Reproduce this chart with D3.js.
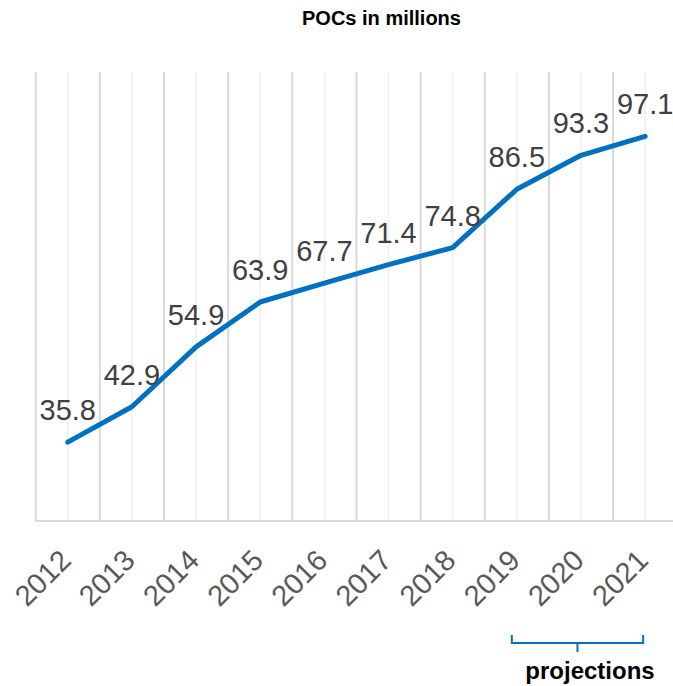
<!DOCTYPE html>
<html>
<head>
<meta charset="utf-8">
<script src="https://cdn.jsdelivr.net/npm/d3@7"></script>
<style>
  body { margin: 0; background: #fff; }
  svg { display: block; font-family: "Liberation Sans", Arial, sans-serif; }
</style>
</head>
<body>
<script>
// chart values
const years = ["2012", "2013", "2014", "2015", "2016", "2017", "2018", "2019", "2020", "2021"];
const pocs = [35.8, 42.9, 54.9, 63.9, 67.7, 71.4, 74.8, 86.5, 93.3, 97.1];
const projectedYears = ["2019", "2020", "2021"];
const yDomain = [20, 110];

const width = 673, height = 686;
const plot = {left: 35.7, right: 677.2, top: 72, bottom: 521};

const svg = d3.select("body").append("svg")
  .attr("width", width)
  .attr("height", height);

// scales
const x = d3.scaleBand().domain(years).range([plot.left, plot.right]).padding(0);
const y = d3.scaleLinear().domain(yDomain).range([plot.bottom, plot.top]);
const cx = d => x(d) + x.bandwidth() / 2;

// title
svg.append("text")
  .attr("x", 381.5)
  .attr("y", 25)
  .attr("text-anchor", "middle")
  .style("font-size", "20px")
  .style("font-weight", "bold")
  .style("fill", "#000")
  .text("POCs in millions");

// minor gridlines (at category centers)
svg.append("g").selectAll("line")
  .data(years)
  .enter().append("line")
  .attr("x1", d => cx(d)).attr("x2", d => cx(d))
  .attr("y1", plot.top).attr("y2", plot.bottom)
  .attr("stroke", "#f0f0f0")
  .attr("stroke-width", 1.5);

// major gridlines (category boundaries)
svg.append("g").selectAll("line")
  .data(years.concat(["end"]))
  .enter().append("line")
  .attr("x1", (d, i) => plot.left + i * x.step())
  .attr("x2", (d, i) => plot.left + i * x.step())
  .attr("y1", plot.top).attr("y2", plot.bottom)
  .attr("stroke", "#d9d9d9")
  .attr("stroke-width", 2);

// baseline
svg.append("line")
  .attr("x1", plot.left).attr("x2", plot.right)
  .attr("y1", plot.bottom).attr("y2", plot.bottom)
  .attr("stroke", "#d9d9d9")
  .attr("stroke-width", 2);

// year labels rotated
svg.append("g").selectAll("text")
  .data(years)
  .enter().append("text")
  .attr("transform", d => "translate(" + (cx(d) - 2.4) + ",555) rotate(-45)")
  .attr("text-anchor", "end")
  .attr("dy", "0.35em")
  .style("font-size", "29px")
  .style("fill", "#595959")
  .text(d => d);

// the line
const line = d3.line()
  .x((d, i) => cx(years[i]))
  .y(d => y(d));

svg.append("path")
  .datum(pocs)
  .attr("d", line)
  .attr("fill", "none")
  .attr("stroke", "#0070c0")
  .attr("stroke-width", 5)
  .attr("stroke-linejoin", "round")
  .attr("stroke-linecap", "round");

// value labels
svg.append("g").selectAll("text")
  .data(pocs)
  .enter().append("text")
  .attr("x", (d, i) => cx(years[i]))
  .attr("y", d => y(d) - 22)
  .attr("text-anchor", "middle")
  .style("font-size", "29px")
  .style("fill", "#404040")
  .text(d => d.toFixed(1));

// projections bracket
const bx0 = cx(projectedYears[0]) - 5;
const bx1 = cx(projectedYears[projectedYears.length - 1]) - 2;
const bMid = (bx0 + bx1) / 2;
svg.append("path")
  .attr("d", "M" + bx0 + ",635 V643 H" + bx1 + " V635 M" + bMid + ",643 V652")
  .attr("fill", "none")
  .attr("stroke", "#0070c0")
  .attr("stroke-width", 2);

svg.append("text")
  .attr("x", 590)
  .attr("y", 679)
  .attr("text-anchor", "middle")
  .style("font-size", "24px")
  .style("font-weight", "bold")
  .style("fill", "#000")
  .text("projections");
</script>
</body>
</html>
